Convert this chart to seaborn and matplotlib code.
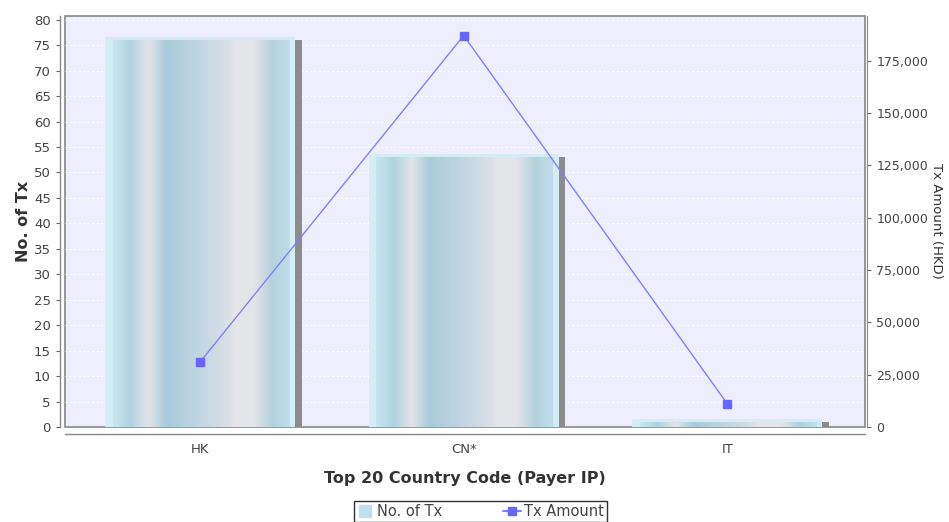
import numpy as np
import pandas as pd
import matplotlib
matplotlib.use("Agg")
import matplotlib.pyplot as plt
import seaborn as sns
from matplotlib.ticker import MultipleLocator, FuncFormatter
from matplotlib.colors import LinearSegmentedColormap

# Data
countries = ["HK", "CN*", "IT"]
tx_count = [76, 53, 1]
tx_amount = [31000, 187000, 11000]

df = pd.DataFrame({"country": countries, "count": tx_count, "amount": tx_amount})

sns.set_style("white")
plt.rcParams["font.family"] = ["DejaVu Sans"]

fig = plt.figure(figsize=(9.49, 5.22), dpi=100)
ax = fig.add_axes([0.069, 0.182, 0.842, 0.788])
ax.set_facecolor("#EEEEFF")
ax.patch.set_edgecolor("#888888")
ax.patch.set_linewidth(1.2)

sns.barplot(data=df, x="country", y="count", color="#BFE0EE", width=0.72,
            saturation=1, ax=ax, zorder=2)

# gradient fill to mimic the 3D-ish bar look
grad = LinearSegmentedColormap.from_list("bar", [
    "#C8E6F2", "#AFD3E0", "#E4E4E8", "#A9CCDA", "#B6D2DE", "#C4D6E2",
    "#D2DCE4", "#E6E6EA", "#E2E4E8", "#B4D2DE", "#C0DCEA"])
gvals = np.linspace(0, 1, 256).reshape(1, -1)
for p in list(ax.patches):
    x0, w, h = p.get_x(), p.get_width(), p.get_height()
    shadow = plt.Rectangle((x0 + w * 0.07, 0), w * 0.965, h, color="#8C8C8C",
                           zorder=1.5, lw=0)
    ax.add_patch(shadow)
    p.set_zorder(1.8)
    p.set_height(h + 0.6)
    p.set_facecolor("#D4ECF6")
    p.set_edgecolor("none")
    top = h
    inner = plt.Rectangle((x0 + w * 0.04, 0), w * 0.93, top,
                          transform=ax.transData, visible=False)
    ax.add_patch(inner)
    im = ax.imshow(gvals, cmap=grad, aspect="auto", zorder=2.1,
                   extent=(x0 + w * 0.04, x0 + w * 0.97, 0, top))
    im.set_clip_path(inner)

ax.set_xlim(-0.51, 2.52)
ax.set_ylim(0, 80.8)
ax.yaxis.set_major_locator(MultipleLocator(5))
ax.grid(axis="y", color="white", linestyle=(0, (2, 2)), linewidth=0.8, zorder=0)
ax.set_axisbelow(True)

for name, s in ax.spines.items():
    s.set_color("#888888")
    s.set_linewidth(1.0)
ax.spines["left"].set_position(("outward", 4))
ax.spines["bottom"].set_position(("outward", 5))
ax.spines["top"].set_visible(False)
ax.spines["right"].set_visible(False)

ax.tick_params(axis="both", colors="#666666", labelsize=9.5, length=3,
               labelcolor="#444444")
ax.set_xlabel("Top 20 Country Code (Payer IP)", fontsize=11.5, fontweight="bold",
              color="#333333", labelpad=11)
ax.set_ylabel("No. of Tx", fontsize=11.5, fontweight="bold", color="#333333",
              labelpad=2)

ax2 = ax.twinx()
ax2.plot(range(len(countries)), df["amount"], color="#8080FF", linewidth=1.0,
         marker="s", markersize=6, markerfacecolor="#6666FF",
         markeredgecolor="#6666FF", zorder=5)
ax2.set_ylim(0, 196500)
ax2.yaxis.set_major_locator(MultipleLocator(25000))
ax2.yaxis.set_major_formatter(FuncFormatter(lambda v, _: f"{int(v):,}"))
ax2.tick_params(axis="y", colors="#666666", labelsize=9, length=3,
                labelcolor="#444444")
ax2.set_ylabel("Tx Amount (HKD)", rotation=270, fontsize=9.5, color="#333333",
               labelpad=11)
for name, s in ax2.spines.items():
    s.set_visible(name == "right")
    s.set_color("#888888")
ax2.spines["right"].set_position(("outward", 2))

handles = [
    plt.Line2D([], [], marker="s", linestyle="none", markersize=8,
               markerfacecolor="#BFE0EE", markeredgecolor="#BFE0EE"),
    plt.Line2D([], [], color="#8080FF", marker="s", markersize=6,
               markerfacecolor="#6666FF", markeredgecolor="#6666FF"),
]
leg = fig.legend(handles, ["No. of Tx", "Tx Amount"], loc="lower center",
                 bbox_to_anchor=(0.506, -0.014), ncol=2, frameon=True,
                 fancybox=False, fontsize=10.5, handlelength=1.2,
                 handletextpad=0.2, columnspacing=4.2, borderpad=0.2)
leg.get_frame().set_edgecolor("black")
leg.get_frame().set_linewidth(1.0)
for t in leg.get_texts():
    t.set_color("#444444")

fig.savefig("out.png", dpi=100, facecolor="white")
